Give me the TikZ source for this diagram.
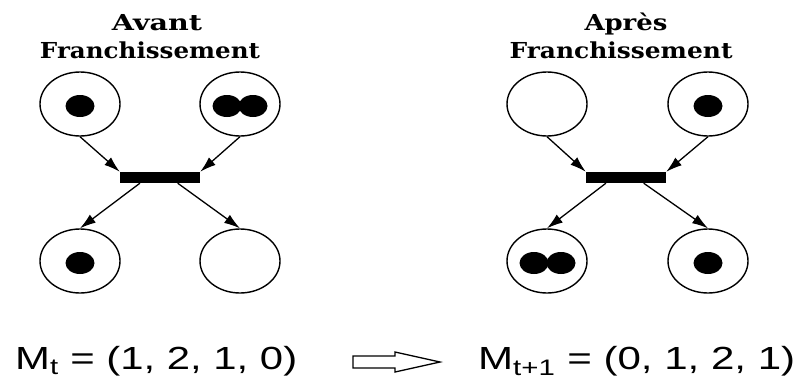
\documentclass[tikz,border=0pt]{standalone}
\usepackage{fontspec}
\usepackage{graphicx}
\setmainfont{Liberation Sans}
\newfontfamily\titlefont{DejaVu Serif}
\usetikzlibrary{shapes.geometric,arrows.meta,calc}
\tikzset{
  place/.style={ellipse,draw,line width=1.4pt,minimum width=80pt,minimum height=64pt,inner sep=0pt},
  token/.style={ellipse,fill=black,minimum width=29pt,minimum height=22pt,inner sep=0pt},
  bar/.style={rectangle,fill=black,minimum width=80pt,minimum height=11pt,inner sep=0pt},
  arc/.style={line width=1.3pt,-{Latex[length=16pt,width=10pt]}},
  ttl/.style={font=\titlefont\bfseries\fontsize{22}{22}\selectfont,inner sep=0pt,anchor=base},
  frm/.style={font=\fontsize{32}{32}\selectfont,inner sep=0pt,anchor=base west}
}
\begin{document}
\begin{tikzpicture}[x=1pt,y=-1pt]
\useasboundingbox (0,0) rectangle (801,381);
% titles
\node[ttl] (ta) at (157,30) {\resizebox{90pt}{\height}{Avant}};
\node[ttl] (tf) at (150,58) {\resizebox{220pt}{\height}{Franchissement}};
\node[ttl] (tb) at (626,30) {\resizebox{83pt}{\height}{Après}};
\node[ttl] (tg) at (621,58) {\resizebox{223pt}{\height}{Franchissement}};
% left net
\node[place] (a1) at (80,104) {};
\node[place] (a2) at (240,104) {};
\node[place] (a3) at (80,261) {};
\node[place] (a4) at (240,261) {};
\node[bar] (t1) at (160,177.5) {};
\node[token] (k1) at (80,106) {};
\node[token] (k2) at (227,106) {};
\node[token] (k3) at (253,106) {};
\node[token] (k4) at (80,263) {};
\draw[arc] (a1.south) -- (t1.north west);
\draw[arc] (a2.south) -- (t1.north east);
\draw[arc] ($(t1.south west)!0.25!(t1.south east)$) -- (a3.north);
\draw[arc] ($(t1.south west)!0.72!(t1.south east)$) -- (a4.north);
% right net
\node[place] (b1) at (547,104) {};
\node[place] (b2) at (708,104) {};
\node[place] (b3) at (547,261) {};
\node[place] (b4) at (708,261) {};
\node[bar] (t2) at (626,177.5) {};
\node[token] (m1) at (708,106) {};
\node[token] (m2) at (534,263) {};
\node[token] (m3) at (561,263) {};
\node[token] (m4) at (708,263) {};
\draw[arc] (b1.south) -- (t2.north west);
\draw[arc] (b2.south) -- (t2.north east);
\draw[arc] ($(t2.south west)!0.25!(t2.south east)$) -- (b3.north);
\draw[arc] ($(t2.south west)!0.72!(t2.south east)$) -- (b4.north);
% markings
\node[frm] (f1) at (15,369) {\resizebox{282pt}{\height}{M\textsubscript{t} = (1, 2, 1, 0)}};
\node[frm] (f2) at (478,369) {\resizebox{317pt}{\height}{M\textsubscript{t+1} = (0, 1, 2, 1)}};
\draw[line width=1.3pt,line join=miter] (353,356) -- (395,356) -- (395,352) -- (440,362) -- (395,372) -- (395,368) -- (353,368) -- cycle;
\end{tikzpicture}
\end{document}
